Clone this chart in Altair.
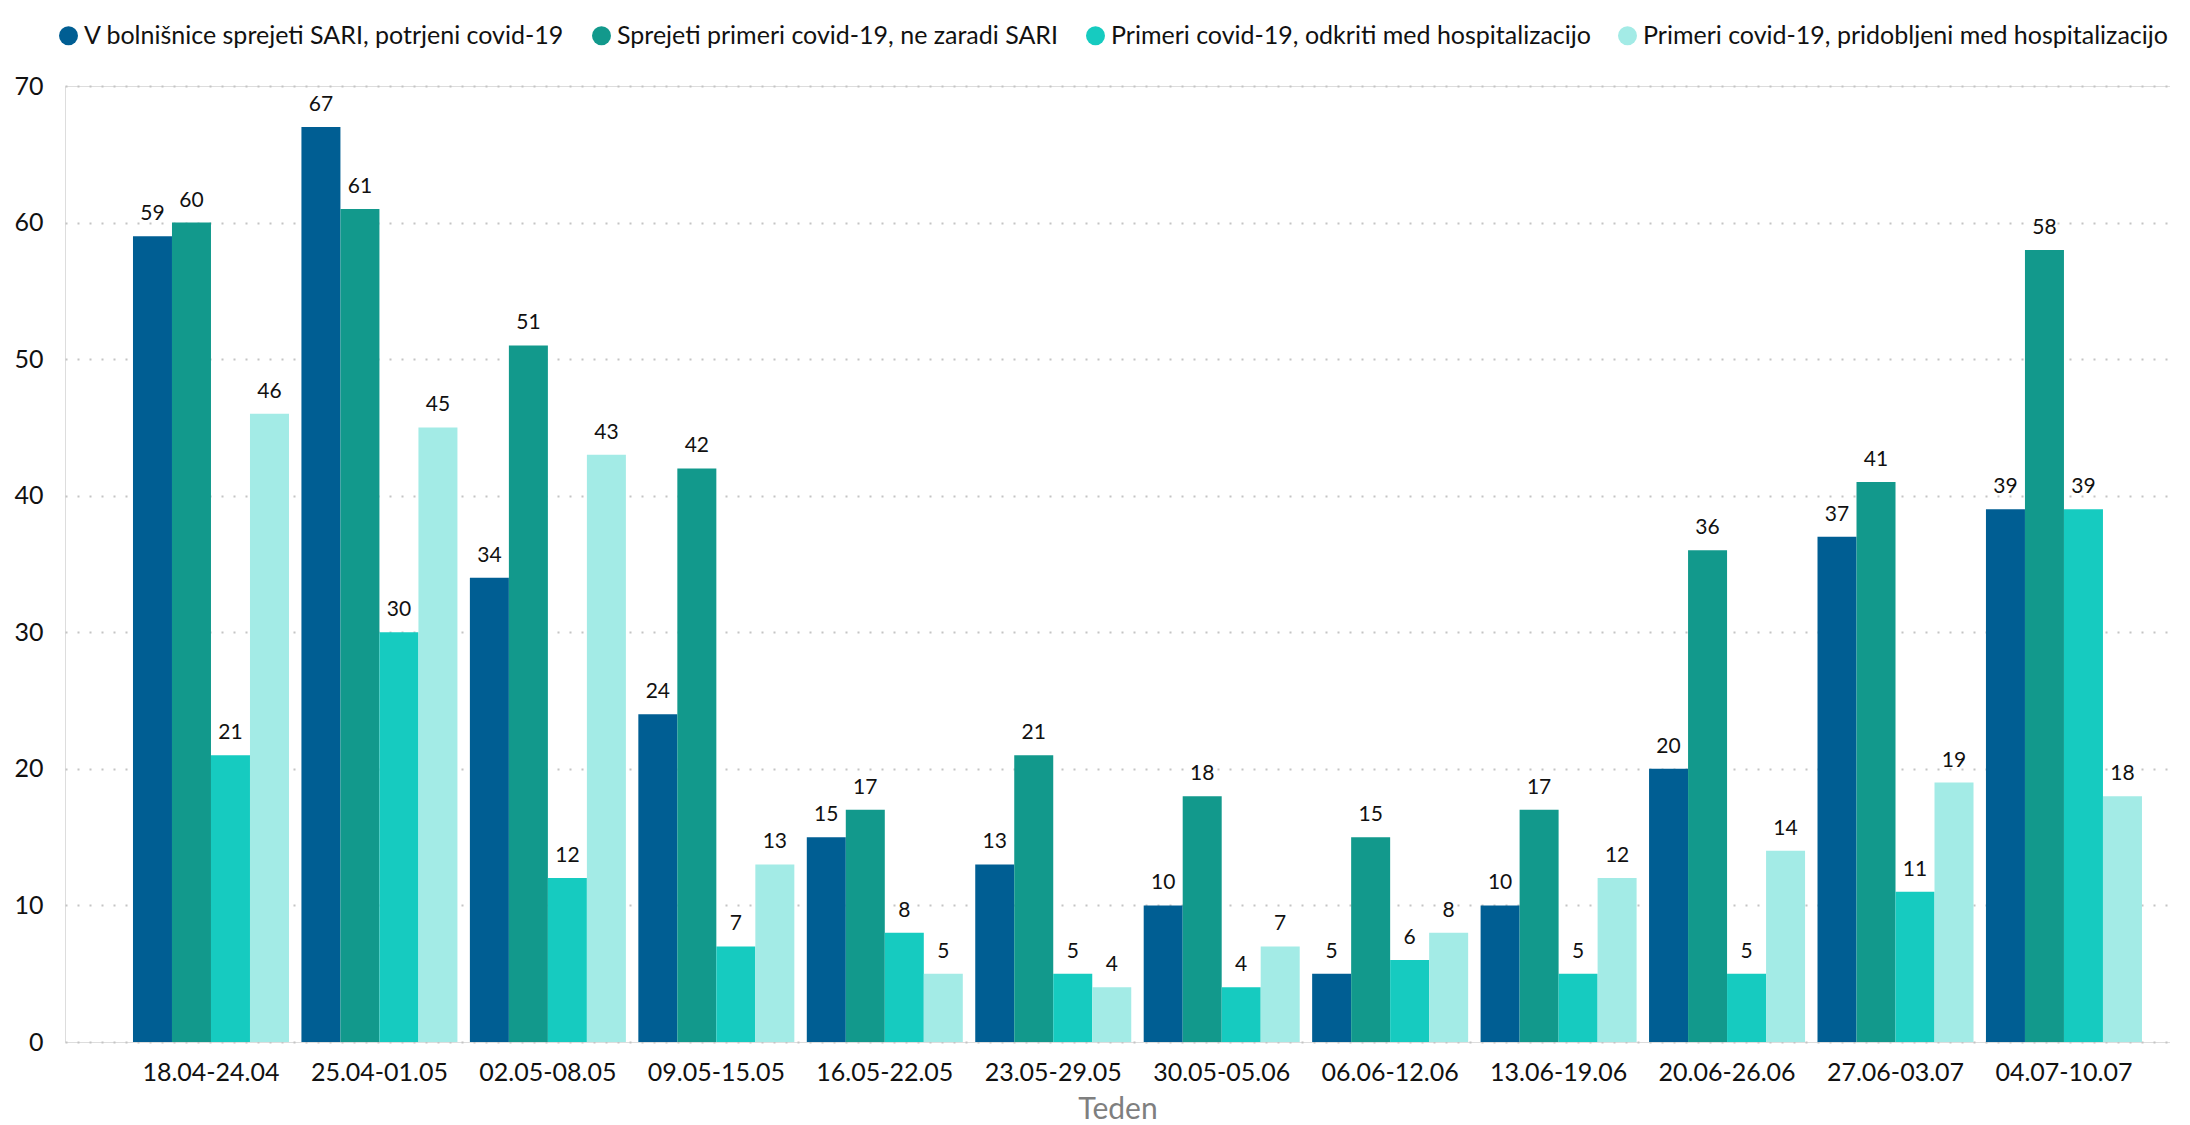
import altair as alt
import pandas as pd

weeks = ["18.04-24.04", "25.04-01.05", "02.05-08.05", "09.05-15.05", "16.05-22.05",
         "23.05-29.05", "30.05-05.06", "06.06-12.06", "13.06-19.06", "20.06-26.06",
         "27.06-03.07", "04.07-10.07"]
series = ["V bolnišnice sprejeti SARI, potrjeni covid-19",
          "Sprejeti primeri covid-19, ne zaradi SARI",
          "Primeri covid-19, odkriti med hospitalizacijo",
          "Primeri covid-19, pridobljeni med hospitalizacijo"]
sari = [59, 67, 34, 24, 15, 13, 10, 5, 10, 20, 37, 39]
ne_sari = [60, 61, 51, 42, 17, 21, 18, 15, 17, 36, 41, 58]
odkriti = [21, 30, 12, 7, 8, 5, 4, 6, 5, 5, 11, 39]
pridobljeni = [46, 45, 43, 13, 5, 4, 7, 8, 12, 14, 19, 18]
colors = ["#005e93", "#12998c", "#16cbc0", "#a3ebe6"]
y_ticks = [0, 10, 20, 30, 40, 50, 60, 70]

rows = []
for s, vals in zip(series, [sari, ne_sari, odkriti, pridobljeni]):
    for w, v in zip(weeks, vals):
        rows.append({"Teden": w, "Serija": s, "Vrednost": v})
df = pd.DataFrame(rows)

FONT = "Lato"

x = alt.X("Teden:N", sort=weeks, title="Teden",
          scale=alt.Scale(paddingInner=0.0739, paddingOuter=0.285, align=0.708),
          axis=alt.Axis(labelAngle=0, labelFontSize=25, labelColor="#111111",
                        labelPadding=18, ticks=False, domain=False, grid=False,
                        titleFontSize=30, titleColor="#7f7f7f", titleFontWeight="normal",
                        titlePadding=9, labelFont=FONT, titleFont=FONT))
xo = alt.XOffset("Serija:N", sort=series, scale=alt.Scale(paddingInner=0, paddingOuter=0))
y = alt.Y("Vrednost:Q", title=None,
          scale=alt.Scale(domain=[0, 70], nice=False),
          axis=alt.Axis(values=y_ticks, labelFontSize=25, labelColor="#111111",
                        labelPadding=22, ticks=False, domain=False,
                        grid=True, gridColor="#c4c4c4", gridDash=[2, 10], gridWidth=2,
                        labelFont=FONT))
color = alt.Color("Serija:N", sort=series,
                  scale=alt.Scale(domain=series, range=colors),
                  legend=alt.Legend(title=None, orient="none", direction="horizontal",
                                    columns=4, legendX=-9, legendY=-63,
                                    symbolType="circle", symbolSize=360,
                                    symbolStrokeWidth=0, symbolOpacity=1,
                                    labelFontSize=25, labelFont=FONT, labelColor="#111111",
                                    labelLimit=900, labelOffset=3, columnPadding=24))

bars = alt.Chart(df).mark_bar(opacity=1).encode(x=x, xOffset=xo, y=y, color=color)
labels = alt.Chart(df).mark_text(baseline="bottom", dy=-12, fontSize=21, font=FONT,
                                 color="#111111").encode(
    x=x, xOffset=xo, y=y, text="Vrednost:Q")

chart = alt.layer(bars, labels).properties(
    width=2105, height=956,
    padding={"left": 57, "top": 78, "right": 0, "bottom": 90},
    autosize=alt.AutoSizeParams(type="none"),
).configure_view(stroke=None).configure(font=FONT, background="white")

chart.save("out.html", embed_options={"renderer": "svg", "actions": False})
